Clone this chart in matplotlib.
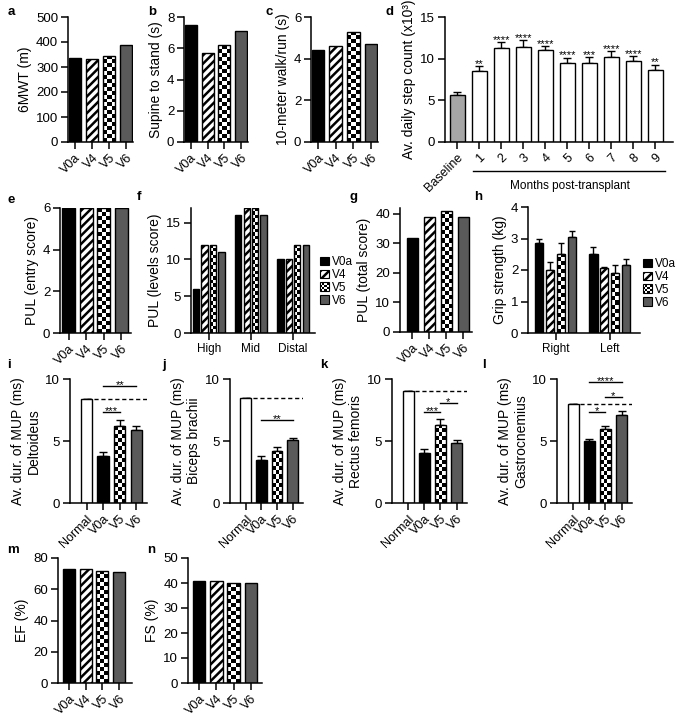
import numpy as np
import matplotlib
matplotlib.use('Agg')
import matplotlib.pyplot as plt
from matplotlib.patches import Rectangle, Patch
from matplotlib.legend_handler import HandlerBase
import matplotlib.transforms as mtransforms

plt.rcParams['font.family'] = ['Liberation Sans', 'DejaVu Sans']
plt.rcParams['font.size'] = 9
plt.rcParams['hatch.linewidth'] = 1.8
plt.rcParams['axes.linewidth'] = 1.1

# ---------------- data ----------------
visits = ['V0a', 'V4', 'V5', 'V6']
mwt = [338, 333, 345, 390]
supine = [7.5, 5.7, 6.2, 7.1]
walk10 = [4.4, 4.6, 5.3, 4.7]

step_labels = ['Baseline', '1', '2', '3', '4', '5', '6', '7', '8', '9']
step_mean = [5.6, 8.5, 11.3, 11.4, 11.1, 9.5, 9.5, 10.2, 9.7, 8.6]
step_err = [0.4, 0.6, 0.7, 0.8, 0.4, 0.6, 0.7, 0.7, 0.6, 0.7]
step_sig = ['', '**', '****', '****', '****', '****', '***', '****', '****', '**']

pul_entry = [6, 6, 6, 6]
pul_groups = ['High', 'Mid', 'Distal']
pul_v0a = [6, 16, 10]
pul_v4 = [12, 17, 10]
pul_v5 = [12, 17, 12]
pul_v6 = [11, 16, 12]
pul_total = [32, 39, 41, 39]

grip_sides = ['Right', 'Left']
grip_v0a = [2.85, 2.50]
grip_v4 = [2.00, 2.05]
grip_v5 = [2.52, 1.92]
grip_v6 = [3.05, 2.15]
grip_v0a_err = [0.12, 0.22]
grip_v4_err = [0.25, 0.05]
grip_v5_err = [0.35, 0.25]
grip_v6_err = [0.20, 0.20]

mup_groups = ['Normal', 'V0a', 'V5', 'V6']
deltoid = [8.4, 3.8, 6.2, 5.9]
deltoid_err = [0, 0.30, 0.50, 0.30]
deltoid_sig = [(1, 2, '***', 7.3), (1, 3, '**', 9.4)]
biceps = [8.5, 3.5, 4.2, 5.1]
biceps_err = [0, 0.30, 0.30, 0.15]
biceps_sig = [(1, 3, '**', 6.7)]
rectus = [9.0, 4.0, 6.3, 4.8]
rectus_err = [0, 0.35, 0.45, 0.30]
rectus_sig = [(1, 2, '***', 7.3), (2, 3, '*', 8.05)]
gastro = [8.0, 5.0, 6.0, 7.1]
gastro_err = [0, 0.20, 0.25, 0.35]
gastro_sig = [(1, 2, '*', 7.3), (2, 3, '*', 8.55), (1, 3, '****', 9.75)]

ef = [73, 73, 72, 71]
fs = [41, 41, 40, 40]

# ---------------- styles ----------------
STYLE = {
    'V0a': dict(facecolor='black'),
    'V4': dict(facecolor='white', hatch='////'),
    'V5': dict(facecolor='none', checker=True),
    'V6': dict(facecolor='#5a5a5a'),
    'Normal': dict(facecolor='white'),
    'Baseline': dict(facecolor='#a6a6a6'),
    'Month': dict(facecolor='white'),
}

YTICK_FS = 9.5
XTICK_FS = 9
GROUP_FS = 8.5
YLABEL_FS = 10

W, H = 676, 716
fig = plt.figure(figsize=(W / 100, H / 100), dpi=100)


def add_ax(l, t, r, b):
    ax = fig.add_axes([l / W, 1 - b / H, (r - l) / W, (b - t) / H])
    for s in ['top', 'right']:
        ax.spines[s].set_visible(False)
    ax.tick_params(direction='out', length=5, width=1.1, pad=2)
    ax.tick_params(axis='y', labelsize=YTICK_FS)
    ax.tick_params(axis='x', labelsize=XTICK_FS)
    return ax


def draw_bars(ax, xs, vals, width, key):
    st = STYLE[key]
    kw = dict(edgecolor='black', linewidth=1.0)
    if st.get('checker'):
        bars = ax.bar(xs, vals, width, facecolor='none', zorder=3, **kw)
        return bars, True
    bars = ax.bar(xs, vals, width, facecolor=st['facecolor'], hatch=st.get('hatch'), zorder=2, **kw)
    return bars, False


def add_checker(ax, bars, cell=4.0):
    for b in bars:
        x0, y0 = b.get_x(), b.get_y()
        w, h = b.get_width(), b.get_height()
        p0 = ax.transData.transform((x0, y0))
        p1 = ax.transData.transform((x0 + w, y0 + h))
        nc = max(1, int(round(abs(p1[0] - p0[0]) / cell)))
        nr = max(1, int(round(abs(p1[1] - p0[1]) / cell)))
        arr = np.add.outer(np.arange(nr), np.arange(nc)) % 2
        im = ax.imshow(arr, cmap='gray', vmin=0, vmax=1, extent=(x0, x0 + w, y0, y0 + h),
                       aspect='auto', interpolation='nearest', origin='lower', zorder=2)
        im.set_clip_path(b)


def visit_panel(ax, labels, vals, xlim, ylim, yticks, ylabel, width=0.72, errs=None):
    xs = np.arange(len(vals))
    ax.set_xlim(*xlim)
    ax.set_ylim(*ylim)
    checks = []
    for i, (lab, v) in enumerate(zip(labels, vals)):
        bars, chk = draw_bars(ax, [xs[i]], [v], width, lab)
        if chk:
            checks.append(bars)
    if errs is not None:
        ax.errorbar(xs, vals, yerr=[np.zeros(len(vals)), errs], fmt='none', ecolor='black',
                    elinewidth=1.0, capsize=3, capthick=1.0, zorder=1)
    ax.set_xlim(*xlim)
    ax.set_ylim(*ylim)
    for bars in checks:
        add_checker(ax, bars)
    ax.set_xlim(*xlim)
    ax.set_ylim(*ylim)
    ax.set_yticks(yticks)
    ax.set_xticks(xs)
    ax.set_xticklabels(labels, rotation=45, ha='right', rotation_mode='anchor')
    ax.set_ylabel(ylabel, fontsize=YLABEL_FS, labelpad=3)


def sig_brackets(ax, sigs):
    for a, b, txt, y in sigs:
        ax.plot([a, b], [y, y], color='black', lw=1.0, zorder=4, clip_on=False)
        ax.annotate(txt, xy=((a + b) / 2, y), xytext=(0, -1.5), textcoords='offset points',
                    ha='center', va='baseline', fontsize=8, annotation_clip=False)


def letter(x, y, t):
    fig.text(x / W, 1 - y / H, t, fontsize=9.5, fontweight='bold', va='center', ha='left')


# ---------------- row 1 ----------------
ax = add_ax(68, 17, 133, 142)
visit_panel(ax, visits, mwt, (-0.4, 3.4), (0, 500), [0, 100, 200, 300, 400, 500], '6MWT (m)')
letter(8, 12, 'a')

ax = add_ax(184, 17, 248, 142)
visit_panel(ax, visits, supine, (-0.4, 3.4), (0, 8), [0, 2, 4, 6, 8], 'Supine to stand (s)')
letter(148, 12, 'b')

ax = add_ax(311, 17, 378, 142)
visit_panel(ax, visits, walk10, (-0.4, 3.4), (0, 6), [0, 2, 4, 6], '10-meter walk/run (s)')
letter(265, 12, 'c')

# panel d
ax = add_ax(445, 17, 673, 142)
xs = np.arange(len(step_mean))
xlim = (-0.55, 9.8)
for i, v in enumerate(step_mean):
    key = 'Baseline' if i == 0 else 'Month'
    draw_bars(ax, [xs[i]], [v], 0.68, key)
ax.errorbar(xs, step_mean, yerr=[np.zeros(len(xs)), step_err], fmt='none', ecolor='black',
            elinewidth=1.0, capsize=3, capthick=1.0, zorder=1)
for i, s in enumerate(step_sig):
    if s:
        ax.annotate(s, xy=(xs[i], step_mean[i] + step_err[i]), xytext=(0, -0.5),
                    textcoords='offset points', ha='center', va='baseline', fontsize=8)
ax.set_xlim(*xlim)
ax.set_ylim(0, 15)
ax.set_yticks([0, 5, 10, 15])
ax.set_xticks(xs)
ax.set_xticklabels(step_labels, rotation=45, ha='right', rotation_mode='anchor')
ax.set_ylabel('Av. daily step count (x10³)', fontsize=YLABEL_FS, labelpad=3)
trans = mtransforms.blended_transform_factory(ax.transData, ax.transAxes)
ax.plot([0.7, 9.45], [-0.232, -0.232], color='black', lw=1.0, transform=trans, clip_on=False)
ax.text(5.1, -0.30, 'Months post-transplant', transform=trans, ha='center', va='top', fontsize=GROUP_FS)
letter(385, 12, 'd')

# ---------------- row 2 ----------------
ax = add_ax(60, 208, 131, 333)
visit_panel(ax, visits, pul_entry, (-0.5, 3.55), (0, 6), [0, 2, 4, 6], 'PUL (entry score)', width=0.75)
letter(8, 200, 'e')

# panel f grouped
ax = add_ax(191, 208, 315, 333)
offs = [-0.3, -0.1, 0.1, 0.3]
gx = np.arange(len(pul_groups))
xlim = (-0.42, 2.52)
ax.set_xlim(*xlim)
ax.set_ylim(0, 17)
checks = []
for k, (lab, vals) in enumerate(zip(visits, [pul_v0a, pul_v4, pul_v5, pul_v6])):
    bars, chk = draw_bars(ax, gx + offs[k], vals, 0.15, lab)
    if chk:
        checks.append(bars)
ax.set_xlim(*xlim)
ax.set_ylim(0, 17)
for b in checks:
    add_checker(ax, b, cell=3.5)
ax.set_xlim(*xlim)
ax.set_ylim(0, 17)
ax.set_yticks([0, 5, 10, 15])
ax.set_xticks(gx)
ax.set_xticklabels(pul_groups, fontsize=GROUP_FS)
ax.set_ylabel('PUL (levels score)', fontsize=YLABEL_FS, labelpad=3)
letter(137, 197, 'f')


class CheckerHandler(HandlerBase):
    def create_artists(self, legend, orig_handle, xdescent, ydescent, width, height, fontsize, trans):
        arts = []
        n = 4
        cw, ch = width / n, height / n
        for i in range(n):
            for j in range(n):
                if (i + j) % 2 == 0:
                    arts.append(Rectangle((-xdescent + i * cw, -ydescent + j * ch), cw, ch,
                                          facecolor='black', edgecolor='none', transform=trans))
        arts.append(Rectangle((-xdescent, -ydescent), width, height, facecolor='none',
                              edgecolor='black', lw=0.8, transform=trans))
        return arts


def make_legend(ax, x_px, y_px):
    hs = []
    hmap = {}
    for lab in visits:
        st = STYLE[lab]
        if st.get('checker'):
            p = Patch(facecolor='white', edgecolor='black', label=lab)
            hmap[p] = CheckerHandler()
        else:
            p = Patch(facecolor=st['facecolor'], edgecolor='black', hatch=st.get('hatch'),
                      label=lab, linewidth=0.8)
        hs.append(p)
    ax.legend(handles=hs, handler_map=hmap, loc='upper left',
              bbox_to_anchor=(x_px / W, 1 - y_px / H), bbox_transform=fig.transFigure,
              frameon=False, fontsize=8.5, handlelength=0.75, handleheight=0.75,
              handletextpad=0.3, labelspacing=0.08, borderpad=0, borderaxespad=0)


make_legend(ax, 320, 256)

# panel g
ax = add_ax(400, 208, 472, 332)
visit_panel(ax, visits, pul_total, (-0.73, 3.5), (0, 42), [0, 10, 20, 30, 40], 'PUL (total score)', width=0.65)
letter(350, 197, 'g')

# panel h grouped with errors
ax = add_ax(528, 207, 640, 333)
gx = np.arange(len(grip_sides))
xlim = (-0.51, 1.56)
ax.set_xlim(*xlim)
ax.set_ylim(0, 4)
checks = []
for k, (lab, vals, errs) in enumerate(zip(visits, [grip_v0a, grip_v4, grip_v5, grip_v6],
                                           [grip_v0a_err, grip_v4_err, grip_v5_err, grip_v6_err])):
    bars, chk = draw_bars(ax, gx + offs[k], vals, 0.15, lab)
    if chk:
        checks.append(bars)
    ax.errorbar(gx + offs[k], vals, yerr=[np.zeros(len(vals)), errs], fmt='none', ecolor='black',
                elinewidth=1.0, capsize=2.5, capthick=1.0, zorder=1)
ax.set_xlim(*xlim)
ax.set_ylim(0, 4)
for b in checks:
    add_checker(ax, b, cell=4.0)
ax.set_xlim(*xlim)
ax.set_ylim(0, 4)
ax.set_yticks([0, 1, 2, 3, 4])
ax.set_xticks(gx)
ax.set_xticklabels(grip_sides, fontsize=GROUP_FS)
ax.set_ylabel('Grip strength (kg)', fontsize=YLABEL_FS, labelpad=3)
make_legend(ax, 643, 258)
letter(474, 197, 'h')

# ---------------- row 3 ----------------
mup_specs = [
    ((70, 379, 147, 503), deltoid, deltoid_err, deltoid_sig, 'Deltoideus', 'i', (7, 365)),
    ((230, 379, 303, 503), biceps, biceps_err, biceps_sig, 'Biceps brachii', 'j', (162, 365)),
    ((392, 379, 467, 503), rectus, rectus_err, rectus_sig, 'Rectus femoris', 'k', (320, 365)),
    ((557, 379, 632, 503), gastro, gastro_err, gastro_sig, 'Gastrocnemius', 'l', (482, 365)),
]
for pos, vals, errs, sigs, muscle, let, lp in mup_specs:
    ax = add_ax(*pos)
    xlim = (-1.0, 3.65)
    ax.hlines(vals[0], 0, xlim[1], colors='black', linestyles=(0, (3, 2)), lw=1.0, zorder=1)
    visit_panel(ax, mup_groups, vals, xlim, (0, 10), [0, 5, 10],
                'Av. dur. of MUP (ms)\n' + muscle, width=0.68, errs=errs)
    sig_brackets(ax, sigs)
    letter(lp[0], lp[1], let)

# ---------------- row 4 ----------------
ax = add_ax(58, 558, 132, 683)
visit_panel(ax, visits, ef, (-0.66, 3.78), (0, 80), [0, 20, 40, 60, 80], 'EF (%)')
letter(7, 550, 'm')

ax = add_ax(188, 558, 262, 683)
visit_panel(ax, visits, fs, (-0.64, 3.64), (0, 50), [0, 10, 20, 30, 40, 50], 'FS (%)')
letter(147, 550, 'n')

fig.savefig('out.png', dpi=100)
